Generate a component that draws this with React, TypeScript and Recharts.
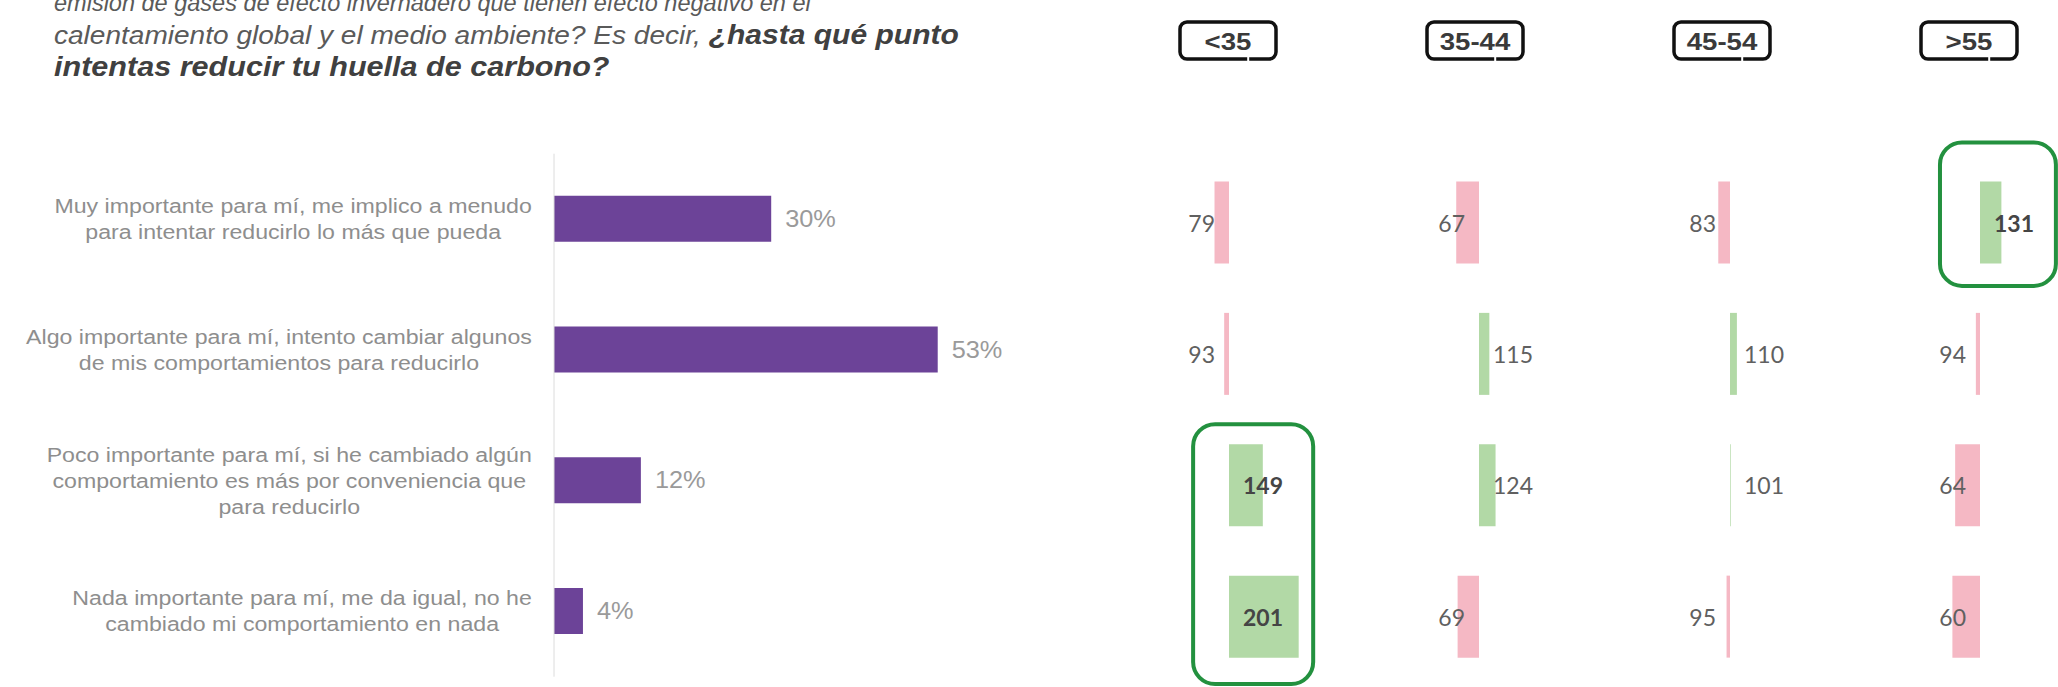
import React from 'react';
import { BarChart, Bar, XAxis, YAxis, LabelList, Cell, ReferenceArea } from 'recharts';

// ---------- data ----------
const TITLE_LINE_1 = 'emisión de gases de efecto invernadero que tienen efecto negativo en el';
const TITLE_LINE_2_REGULAR = 'calentamiento global y el medio ambiente? Es decir, ';
const TITLE_LINE_2_BOLD = '¿hasta qué punto';
const TITLE_LINE_3_BOLD = 'intentas reducir tu huella de carbono?';

const CATEGORIES = [
  'Muy importante para mí, me implico a menudo\npara intentar reducirlo lo más que pueda',
  'Algo importante para mí, intento cambiar algunos\nde mis comportamientos para reducirlo',
  'Poco importante para mí, si he cambiado algún\ncomportamiento es más por conveniencia que\npara reducirlo',
  'Nada importante para mí, me da igual, no he\ncambiado mi comportamiento en nada',
];
const SHARES = [30, 53, 12, 4];

const AGE_GROUPS = ['<35', '35-44', '45-54', '>55'];
const INDEX_LT35 = [79, 93, 149, 201];
const INDEX_35_44 = [67, 115, 124, 69];
const INDEX_45_54 = [83, 110, 101, 95];
const INDEX_GT55 = [131, 94, 64, 60];
const INDEX_BY_GROUP = [INDEX_LT35, INDEX_35_44, INDEX_45_54, INDEX_GT55];

// highlighted cells: age group index, first row, last row, index range covered
const HIGHLIGHTS = [
  { group: 0, from: 2, to: 3, x1: 48, x2: 222, padTop: -5, padBottom: 2 },
  { group: 3, from: 0, to: 0, x1: 42, x2: 210, padTop: 14, padBottom: -2 },
];

// ---------- style ----------
const W = 2058;
const H = 687;
const STRETCH = 1.1;
const LABEL_STRETCH = 1.125;
const PURPLE = '#6c4398';
const PINK = '#f5b8c4';
const GREEN = '#b2d9a6';
const BOX_GREEN = '#23913f';
const LABEL_GRAY = '#8e8e8e';
const SANS = '"Liberation Sans", Arial, sans-serif';
const NUM_FONT = 'Lato, "Liberation Sans", sans-serif';

let measureCtx: CanvasRenderingContext2D | null = null;
function measure(text: string, font: string): number {
  if (!measureCtx) measureCtx = document.createElement('canvas').getContext('2d');
  if (!measureCtx) return text.length * 10;
  measureCtx.font = font;
  return measureCtx.measureText(text).width;
}

const LABEL_SIZE = 20.6;
const LINE_H = 26;

function CategoryTick(props: any) {
  const { x, y, payload } = props;
  const lines = String(payload.value).split('\n');
  const widths = lines.map((l) => measure(l, `${LABEL_SIZE}px "Liberation Sans"`) * LABEL_STRETCH);
  const maxW = Math.max(...widths);
  const cx = x - maxW / 2;
  const y0 = y - ((lines.length - 1) * LINE_H) / 2;
  return (
    <g>
      {lines.map((l, i) => (
        <g key={i} transform={`translate(${cx},${y0 + i * LINE_H}) scale(${LABEL_STRETCH},1)`}>
          <text x={0} y={0} textAnchor="middle" dominantBaseline="central" fontFamily={SANS} fontSize={LABEL_SIZE} fill={LABEL_GRAY}>
            {l}
          </text>
        </g>
      ))}
    </g>
  );
}

function ShareLabel(props: any) {
  const { x, y, width, height, value } = props;
  return (
    <g transform={`translate(${x + width + 14},${y + height / 2}) scale(${STRETCH},1)`}>
      <text x={0} y={0} dominantBaseline="central" fontFamily={SANS} fontSize={23} fill="#9a9a9a">
        {`${value}%`}
      </text>
    </g>
  );
}

function isHighlighted(group: number, row: number) {
  return HIGHLIGHTS.some((h) => h.group === group && row >= h.from && row <= h.to);
}

const IDX_SCALE = 0.69; // px per index point
const COL_W = 250;
const COL_BASE_X = 1229;
const COL_STEP = 250.3;

function IndexColumn({ group }: { group: number }) {
  const values = INDEX_BY_GROUP[group];
  const data = CATEGORIES.map((c, i) => ({
    cat: c,
    v: values[i],
    range: [Math.min(100, values[i]), Math.max(100, values[i])],
  }));
  const half = COL_W / 2 / IDX_SCALE;
  const renderLabel = (p: any) => {
    const { x, y, width, height, value, index } = p;
    const above = value >= 100;
    const base = above ? x : x + width;
    const bold = isHighlighted(group, index);
    return (
      <text
        x={above ? base + 14 : base - 14}
        y={y + height / 2}
        textAnchor={above ? 'start' : 'end'}
        dominantBaseline="central"
        fontFamily={NUM_FONT}
        fontSize={23}
        fontWeight={bold ? 700 : 400}
        fill={bold ? '#454545' : '#606060'}
      >
        {value}
      </text>
    );
  };
  return (
    <div style={{ position: 'absolute', left: COL_BASE_X + group * COL_STEP - COL_W / 2, top: 0 }}>
      <BarChart
        layout="vertical"
        width={COL_W}
        height={H}
        data={data}
        margin={{ top: 156.5, bottom: 5, left: 0, right: 0 }}
      >
        <XAxis type="number" domain={[100 - half, 100 + half]} hide allowDataOverflow />
        <YAxis type="category" dataKey="cat" hide />
        <Bar dataKey="range" barSize={82} isAnimationActive={false}>
          {data.map((d, i) => (
            <Cell key={i} fill={d.v >= 100 ? GREEN : PINK} />
          ))}
          <LabelList dataKey="v" content={renderLabel} />
        </Bar>
        {HIGHLIGHTS.filter((h) => h.group === group).map((h, i) => (
          <ReferenceArea
            key={i}
            x1={h.x1}
            x2={h.x2}
            y1={CATEGORIES[h.from]}
            y2={CATEGORIES[h.to]}
            ifOverflow="visible"
            shape={(p: any) => (
              <rect
                x={p.x}
                y={p.y - h.padTop}
                width={p.width}
                height={p.height + h.padTop + h.padBottom}
                rx={22}
                ry={22}
                fill="none"
                stroke={BOX_GREEN}
                strokeWidth={4}
              />
            )}
          />
        ))}
      </BarChart>
    </div>
  );
}

const HEADER_C0 = 1228;
const HEADER_STEP = 247;
const HEADER_W = 96;
const HEADER_H = 37;
const HEADER_TOP = 22;
const HEADER_STRETCH = 1.2;

function Headers() {
  return (
    <svg width={W} height={80} style={{ position: 'absolute', left: 0, top: 0 }}>
      {AGE_GROUPS.map((g, i) => {
        const cx = HEADER_C0 + i * HEADER_STEP;
        const left = cx - HEADER_W / 2;
        return (
          <g key={g}>
            <rect x={left} y={HEADER_TOP} width={HEADER_W} height={HEADER_H} rx={7} ry={7} fill="#fff" stroke="#111" strokeWidth={3.5} />
            <rect x={left + HEADER_W * 0.7} y={HEADER_TOP + HEADER_H - 3} width={2} height={6} fill="#fff" />
            <g transform={`translate(${cx},${HEADER_TOP + HEADER_H / 2 + 1}) scale(${HEADER_STRETCH},1)`}>
              <text x={0} y={0} textAnchor="middle" dominantBaseline="central" fontFamily={SANS} fontWeight={700} fontSize={23} fill="#3a3a3a">
                {g}
              </text>
            </g>
          </g>
        );
      })}
    </svg>
  );
}

function Title() {
  const left = 54;
  return (
    <svg width={1100} height={100} style={{ position: 'absolute', left: 0, top: 0 }}>
      <g fontFamily={SANS} fontStyle="italic" style={{ whiteSpace: 'pre' }}>
        <g transform={`translate(${left},11) scale(0.98,1)`}>
          <text x={0} y={0} fontSize={24} fill="#5a5a5a">{TITLE_LINE_1}</text>
        </g>
        <g transform={`translate(${left},44) scale(${STRETCH},1)`}>
          <text x={0} y={0}>
            <tspan fontSize={25.5} fill="#5a5a5a">{TITLE_LINE_2_REGULAR}</tspan>
            <tspan fontSize={27.3} fontWeight={700} fill="#404040">{TITLE_LINE_2_BOLD}</tspan>
          </text>
        </g>
        <g transform={`translate(${left},76) scale(${STRETCH},1)`}>
          <text x={0} y={0} fontSize={27.8} fontWeight={700} fill="#404040">{TITLE_LINE_3_BOLD}</text>
        </g>
      </g>
    </svg>
  );
}

export default function App() {
  const shareData = CATEGORIES.map((c, i) => ({ cat: c, pct: SHARES[i] }));
  return (
    <div style={{ position: 'absolute', left: 0, top: 0, width: W, height: H, overflow: 'hidden', background: '#fff' }}>
      <Title />
      <div style={{ position: 'absolute', left: 0, top: 0 }}>
        <BarChart
          layout="vertical"
          width={1050}
          height={H}
          data={shareData}
          margin={{ top: 153.7, bottom: 10.3, left: 0, right: 61.6 }}
        >
          <XAxis type="number" domain={[0, 60]} hide allowDataOverflow />
          <YAxis
            type="category"
            dataKey="cat"
            width={554}
            tickSize={0}
            tickMargin={22}
            tickLine={false}
            axisLine={{ stroke: '#dcdcdc', strokeWidth: 1 }}
            tick={<CategoryTick />}
            interval={0}
          />
          <Bar dataKey="pct" fill={PURPLE} barSize={46} isAnimationActive={false}>
            <LabelList dataKey="pct" content={<ShareLabel />} />
          </Bar>
        </BarChart>
      </div>
      {AGE_GROUPS.map((g, i) => (
        <IndexColumn key={g} group={i} />
      ))}
      <Headers />
    </div>
  );
}
